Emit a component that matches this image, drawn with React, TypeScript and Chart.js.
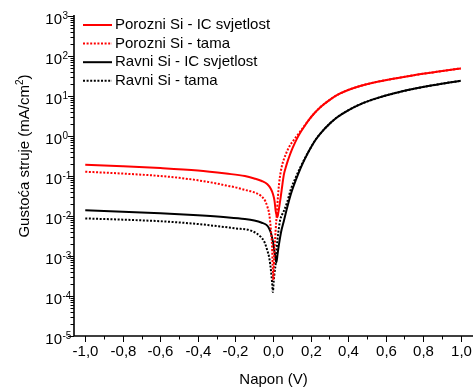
import React, { useEffect, useRef } from "react";
import { Chart, registerables } from "chart.js";

Chart.register(...registerables);

// ---- Data (voltage in V, current density in mA/cm^2) ----
const porLightV = [-1.0, -0.8, -0.6, -0.4, -0.25, -0.15, -0.1, -0.06, -0.03, -0.012, 0.0, 0.008, 0.014, 0.019, 0.023, 0.028, 0.034, 0.041, 0.05, 0.058, 0.068, 0.078, 0.09, 0.1, 0.111, 0.125, 0.14, 0.164, 0.19, 0.22, 0.252, 0.3, 0.34, 0.4, 0.464, 0.55, 0.64, 0.75, 0.85, 0.93, 1.0];
const porLightJ = [0.19, 0.175, 0.158, 0.137, 0.115, 0.1, 0.087, 0.075, 0.062, 0.048, 0.035, 0.024, 0.0135, 0.0105, 0.0093, 0.012, 0.018, 0.03, 0.062, 0.11, 0.165, 0.235, 0.34, 0.45, 0.59, 0.81, 1.1, 1.66, 2.5, 3.7, 5.25, 7.9, 10.5, 14.1, 17.8, 22.4, 26.9, 33.1, 38.9, 44.2, 49];

const porDarkV = [-1.0, -0.8, -0.6, -0.5, -0.4, -0.3, -0.25, -0.2, -0.15, -0.1, -0.065, -0.04, -0.03, -0.02, -0.011, -0.005, -0.002, 0.002, 0.006, 0.009, 0.014, 0.02, 0.026, 0.032, 0.04, 0.05, 0.06, 0.07, 0.08, 0.09, 0.1, 0.111, 0.125, 0.14, 0.164, 0.19, 0.22, 0.252, 0.3, 0.34, 0.4, 0.464, 0.55, 0.64, 0.75, 0.85, 0.93, 1.0];
const porDarkJ = [0.128, 0.115, 0.1, 0.09, 0.078, 0.065, 0.058, 0.052, 0.045, 0.039, 0.032, 0.023, 0.017, 0.011, 0.0043, 0.0017, 0.0006, 0.00025, 0.0009, 0.0017, 0.0045, 0.011, 0.03, 0.063, 0.12, 0.2, 0.28, 0.37, 0.47, 0.58, 0.68, 0.8, 0.98, 1.2, 1.72, 2.5, 3.7, 5.25, 7.9, 10.5, 14.1, 17.8, 22.4, 26.9, 33.1, 38.9, 44.2, 49];

const ravLightV = [-1.0, -0.8, -0.6, -0.4, -0.25, -0.15, -0.1, -0.06, -0.035, -0.02, -0.01, 0.0, 0.007, 0.013, 0.018, 0.024, 0.032, 0.044, 0.058, 0.075, 0.094, 0.12, 0.147, 0.175, 0.2, 0.225, 0.252, 0.3, 0.34, 0.4, 0.464, 0.55, 0.64, 0.75, 0.85, 0.93, 1.0];
const ravLightJ = [0.014, 0.0128, 0.0117, 0.0104, 0.0093, 0.0084, 0.0077, 0.0068, 0.006, 0.0048, 0.0036, 0.0022, 0.00135, 0.0009, 0.00069, 0.0011, 0.002, 0.0042, 0.0076, 0.016, 0.034, 0.076, 0.158, 0.3, 0.5, 0.78, 1.15, 2.0, 2.9, 4.4, 6.2, 8.7, 11.5, 15.1, 18.6, 21.4, 24];

const ravDarkV = [-1.0, -0.8, -0.6, -0.4, -0.3, -0.2, -0.117, -0.065, -0.045, -0.03, -0.02, -0.011, -0.005, -0.001, 0.004, 0.009, 0.014, 0.018, 0.023, 0.03, 0.037, 0.047, 0.058, 0.075, 0.094, 0.12, 0.147, 0.175, 0.2, 0.225, 0.252, 0.3, 0.34, 0.4, 0.464, 0.55, 0.64, 0.75, 0.85, 0.93, 1.0];
const ravDarkJ = [0.0087, 0.0081, 0.0074, 0.0063, 0.0056, 0.0049, 0.0043, 0.003, 0.0022, 0.00135, 0.0009, 0.00043, 0.00022, 0.000125, 0.00025, 0.00042, 0.00063, 0.0012, 0.0024, 0.0045, 0.0076, 0.0105, 0.0135, 0.022, 0.045, 0.09, 0.17, 0.31, 0.5, 0.78, 1.15, 2.0, 2.9, 4.4, 6.2, 8.7, 11.5, 15.1, 18.6, 21.4, 24];

const seriesLabels = [
  "Porozni Si - IC svjetlost",
  "Porozni Si - tama",
  "Ravni Si - IC svjetlost",
  "Ravni Si - tama",
];

const xMajorTicks = [-1.0, -0.8, -0.6, -0.4, -0.2, 0.0, 0.2, 0.4, 0.6, 0.8, 1.0];
const xTickLabels = ["-1,0", "-0,8", "-0,6", "-0,4", "-0,2", "0,0", "0,2", "0,4", "0,6", "0,8", "1,0"];
const xMinorTicks = [-0.9, -0.7, -0.5, -0.3, -0.1, 0.1, 0.3, 0.5, 0.7, 0.9];
const yDecadeExponents = [3, 2, 1, 0, -1, -2, -3, -4, -5];

const xTitle = "Napon (V)";
const yTitleMain = "Gustoća struje (mA/cm";
const yTitleSup = "2";
const yTitleEnd = ")";

const FONT = '"Liberation Sans", Arial, sans-serif';
const RED = "#ff0000";
const BLACK = "#000000";
const DOT = [2, 1.6];

const toPoints = (v: number[], j: number[]) => v.map((x, i) => ({ x, y: j[i] }));

const styles = [
  { color: RED, dash: [] as number[] },
  { color: RED, dash: DOT },
  { color: BLACK, dash: [] as number[] },
  { color: BLACK, dash: DOT },
];

const axesPlugin = {
  id: "originAxes",
  afterDraw(chart: any) {
    const { ctx, chartArea: a, scales } = chart;
    const xs = scales.x;
    const ys = scales.y;
    ctx.save();
    ctx.setLineDash([]);
    ctx.strokeStyle = "#000";
    ctx.fillStyle = "#000";

    // axis lines
    ctx.lineWidth = 1.6;
    ctx.beginPath();
    ctx.moveTo(a.left, a.top - 1);
    ctx.lineTo(a.left, a.bottom);
    ctx.lineTo(a.right, a.bottom);
    ctx.stroke();

    // y ticks
    ctx.lineWidth = 1;
    for (const e of yDecadeExponents) {
      const py = Math.round(ys.getPixelForValue(Math.pow(10, e))) + 0.5;
      ctx.beginPath();
      ctx.moveTo(a.left - 6, py);
      ctx.lineTo(a.left, py);
      ctx.stroke();
      if (e < 3) {
        for (let m = 2; m <= 9; m++) {
          const pm = Math.round(ys.getPixelForValue(m * Math.pow(10, e))) + 0.5;
          ctx.beginPath();
          ctx.moveTo(a.left - 3.5, pm);
          ctx.lineTo(a.left, pm);
          ctx.stroke();
        }
      }
      // label 10^e
      const base = py + 7;
      ctx.font = `15px ${FONT}`;
      ctx.textAlign = "right";
      ctx.textBaseline = "alphabetic";
      ctx.fillText("10", 62, base);
      ctx.font = `10px ${FONT}`;
      ctx.textAlign = "left";
      ctx.fillText(String(e), 62.5, base - 5);
    }

    // x ticks
    for (let i = 0; i < xMajorTicks.length; i++) {
      const px = Math.round(xs.getPixelForValue(xMajorTicks[i])) + 0.5;
      ctx.beginPath();
      ctx.moveTo(px, a.bottom);
      ctx.lineTo(px, a.bottom + 6);
      ctx.stroke();
      ctx.font = `15px ${FONT}`;
      ctx.textAlign = "center";
      ctx.textBaseline = "middle";
      ctx.fillText(xTickLabels[i], px, 352);
    }
    for (const v of xMinorTicks) {
      const px = Math.round(xs.getPixelForValue(v)) + 0.5;
      ctx.beginPath();
      ctx.moveTo(px, a.bottom);
      ctx.lineTo(px, a.bottom + 3.5);
      ctx.stroke();
    }

    // x title
    ctx.font = `15px ${FONT}`;
    ctx.textAlign = "center";
    ctx.textBaseline = "middle";
    ctx.fillText(xTitle, (a.left + a.right) / 2, 380);

    // y title (rotated)
    ctx.save();
    ctx.translate(25, 156);
    ctx.rotate(-Math.PI / 2);
    ctx.font = `15px ${FONT}`;
    const w1 = ctx.measureText(yTitleMain).width;
    ctx.font = `10px ${FONT}`;
    const w2 = ctx.measureText(yTitleSup).width;
    ctx.font = `15px ${FONT}`;
    const w3 = ctx.measureText(yTitleEnd).width;
    const total = w1 + w2 + w3;
    let cx = -total / 2;
    ctx.textAlign = "left";
    ctx.textBaseline = "middle";
    ctx.fillText(yTitleMain, cx, 0);
    cx += w1;
    ctx.font = `10px ${FONT}`;
    ctx.fillText(yTitleSup, cx, -5);
    cx += w2;
    ctx.font = `15px ${FONT}`;
    ctx.fillText(yTitleEnd, cx, 0);
    ctx.restore();

    // legend
    const legendY = [25, 43.6, 62.2, 80.8];
    for (let i = 0; i < seriesLabels.length; i++) {
      const ly = legendY[i];
      ctx.strokeStyle = styles[i].color;
      ctx.lineWidth = 2;
      ctx.setLineDash(styles[i].dash);
      ctx.beginPath();
      ctx.moveTo(83, ly);
      ctx.lineTo(112, ly);
      ctx.stroke();
      ctx.setLineDash([]);
      ctx.fillStyle = "#000";
      ctx.font = `15px ${FONT}`;
      ctx.textAlign = "left";
      ctx.textBaseline = "middle";
      ctx.fillText(seriesLabels[i], 115, ly);
    }
    ctx.restore();
  },
};

export default function App() {
  const ref = useRef<HTMLCanvasElement | null>(null);
  useEffect(() => {
    if (!ref.current) return;
    const datasets = [
      { v: porLightV, j: porLightJ },
      { v: porDarkV, j: porDarkJ },
      { v: ravLightV, j: ravLightJ },
      { v: ravDarkV, j: ravDarkJ },
    ].map((s, i) => ({
      label: seriesLabels[i],
      data: toPoints(s.v, s.j),
      borderColor: styles[i].color,
      backgroundColor: styles[i].color,
      borderWidth: 2,
      borderDash: styles[i].dash,
      pointRadius: 0,
      cubicInterpolationMode: "monotone",
      fill: false,
    }));
    const chart = new Chart(ref.current, {
      type: "line",
      data: { datasets },
      options: {
        animation: false,
        responsive: false,
        maintainAspectRatio: false,
        devicePixelRatio: 1,
        events: [],
        layout: { padding: { left: 74, top: 16, right: 2, bottom: 56 } },
        scales: {
          x: { type: "linear", min: -1.06, max: 1.065, display: false },
          y: { type: "logarithmic", min: 1e-5, max: 1e3, display: false },
        },
        plugins: { legend: { display: false }, tooltip: { enabled: false } },
      },
      plugins: [axesPlugin],
    } as any);
    return () => chart.destroy();
  }, []);
  return (
    <div style={{ position: "absolute", left: 0, top: 0, width: 475, height: 392, background: "#fff" }}>
      <canvas ref={ref} width={475} height={392} style={{ display: "block" }} />
    </div>
  );
}
